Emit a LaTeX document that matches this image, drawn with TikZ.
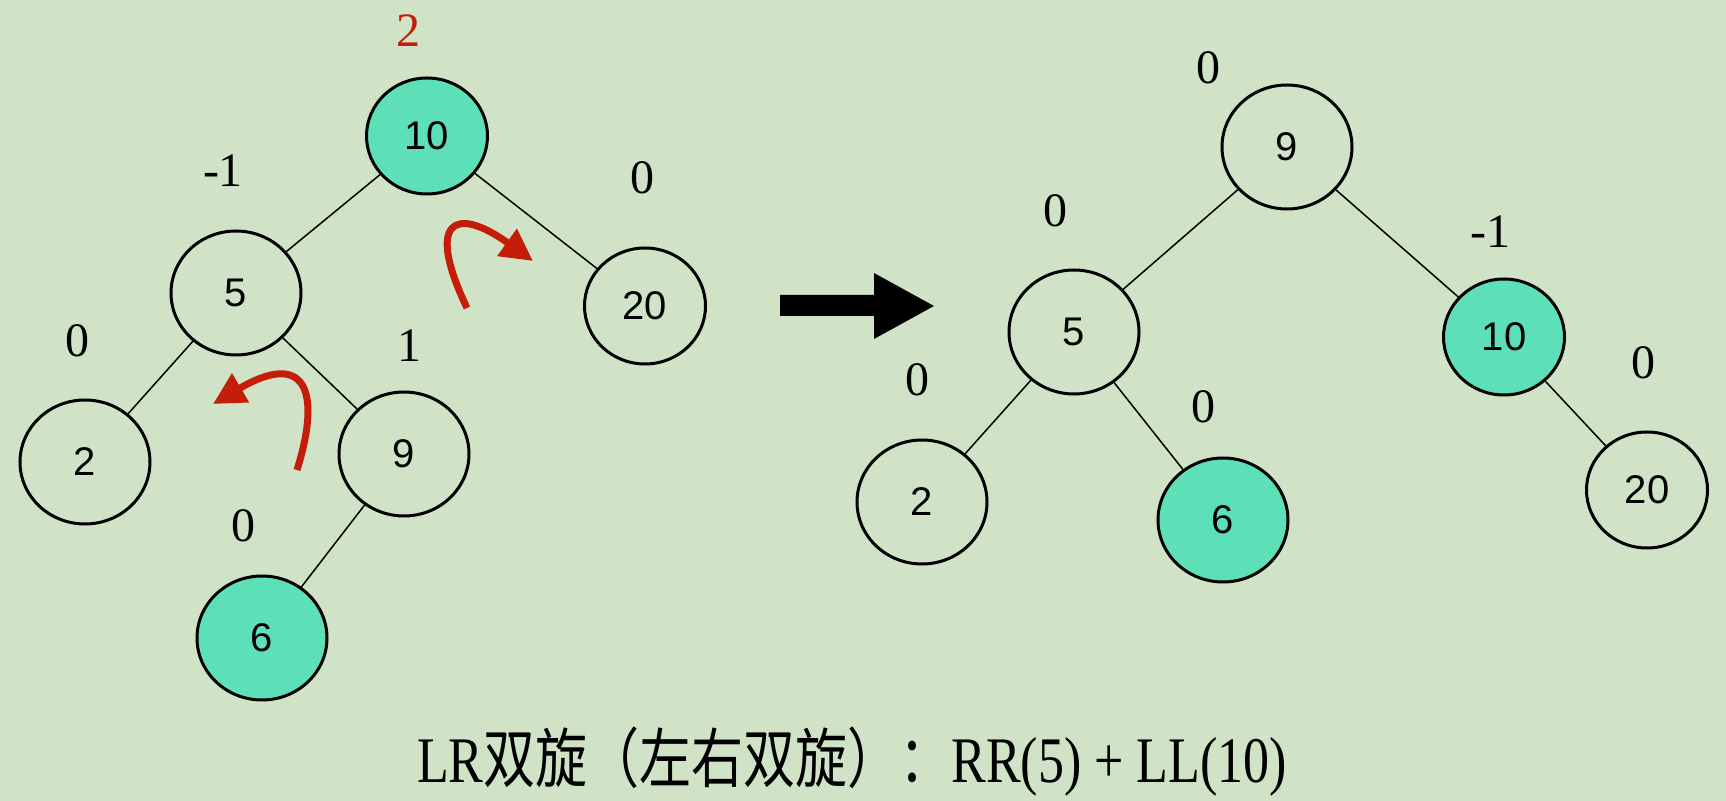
\documentclass[tikz,border=0pt]{standalone}
\usepackage{graphicx}
\usepackage{fontspec}
\setmainfont{Liberation Serif}
\newfontfamily\numfont{Liberation Sans}
\newfontfamily\cjk{Noto Sans CJK SC}
\usetikzlibrary{shapes,arrows.meta}
\definecolor{bggreen}{RGB}{208,227,199}
\definecolor{hinode}{RGB}{93,224,184}
\definecolor{rotred}{RGB}{196,30,10}

\begin{document}
\begin{tikzpicture}[x=0.5pt,y=-0.5pt,
  key/.style={ellipse,draw=black,line width=1.5pt,inner sep=0pt,font=\numfont\fontsize{20}{20}\selectfont},
  wide/.style={key,minimum width=65pt,minimum height=62pt},
  slim/.style={key,minimum width=60.5pt,minimum height=58pt},
  hot/.style={fill=hinode},
  bal/.style={font=\fontsize{24}{24}\selectfont},
  edge/.style={line width=0.75pt},
  turn/.style={draw=rotred,line width=3.5pt,-{Triangle[length=16pt,width=16pt]}}]
  \path[use as bounding box,fill=bggreen] (0,0) rectangle (1726,801);
  % before
  \node[slim,hot] (l10) at (427,136) {10};
  \node[wide] (l5) at (236,293) {5};
  \node[slim] (l20) at (645,306) {20};
  \node[wide] (l2) at (85,462) {2};
  \node[wide] (l9) at (404,454) {9};
  \node[wide,hot] (l6) at (262,638) {6};
  \draw[edge] (l10) -- (l5);
  \draw[edge] (l10) -- (l20);
  \draw[edge] (l5) -- (l2);
  \draw[edge] (l5) -- (l9);
  \draw[edge] (l9) -- (l6);
  \node[bal,text=rotred] (bl10) at (408,31) {2};
  \node[bal] (bl5) at (223,171) {-1};
  \node[bal] (bl20) at (642,178) {0};
  \node[bal] (bl2) at (77,341) {0};
  \node[bal] (bl9) at (409,346) {1};
  \node[bal] (bl6) at (243,526) {0};
  \coordinate (ra1) at (467,308);
  \coordinate (rb1) at (533,261);
  \coordinate (ra2) at (297,470);
  \coordinate (rb2) at (213,404);
  \draw[turn] (ra1) .. controls (425,220) and (455,205) .. (rb1);
  \draw[turn] (ra2) .. controls (322,390) and (305,350) .. (rb2);
  \fill (780,295) -- (874,295) -- (874,273) -- (934,306) -- (874,339) -- (874,316) -- (780,316) -- cycle;
  % after
  \node[wide] (r9) at (1287,147) {9};
  \node[wide] (r5) at (1074,332) {5};
  \node[slim,hot] (r10) at (1504,337) {10};
  \node[wide] (r2) at (922,502) {2};
  \node[wide,hot] (r6) at (1223,520) {6};
  \node[slim] (r20) at (1647,490) {20};
  \draw[edge] (r9) -- (r5);
  \draw[edge] (r9) -- (r10);
  \draw[edge] (r5) -- (r2);
  \draw[edge] (r5) -- (r6);
  \draw[edge] (r10) -- (r20);
  \node[bal] (br9) at (1208,68) {0};
  \node[bal] (br5) at (1055,211) {0};
  \node[bal] (br10) at (1490,232) {-1};
  \node[bal] (br2) at (917,380) {0};
  \node[bal] (br6) at (1203,407) {0};
  \node[bal] (br20) at (1643,363) {0};
  \node[anchor=base] (cap) at (852,783) {\scalebox{1}[1.25]{\fontsize{26}{26}\selectfont LR{\cjk 双旋（左右双旋）：}RR(5) + LL(10)}};
\end{tikzpicture}
\end{document}
